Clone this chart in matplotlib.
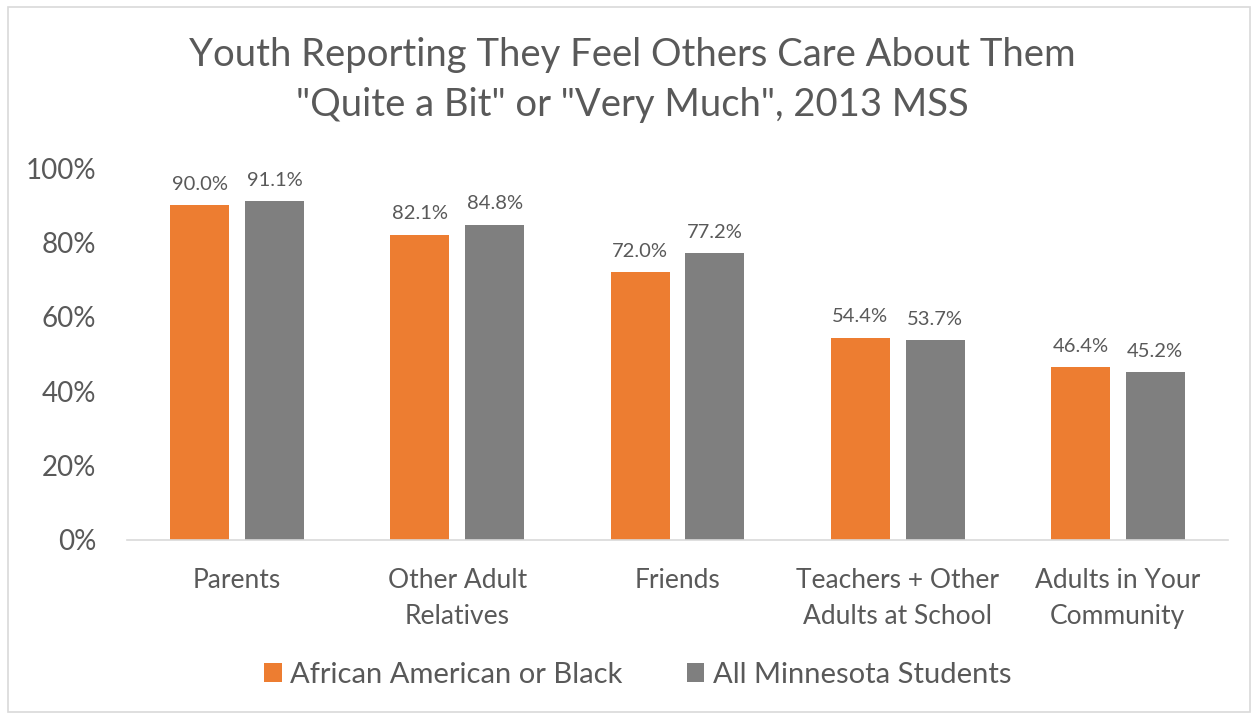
import numpy as np
import matplotlib
matplotlib.use("Agg")
import matplotlib.pyplot as plt
from matplotlib.patches import Rectangle

categories = ["Parents", "Other Adult\nRelatives", "Friends",
              "Teachers + Other\nAdults at School", "Adults in Your\nCommunity"]
black = [90.0, 82.1, 72.0, 54.4, 46.4]
all_mn = [91.1, 84.8, 77.2, 53.7, 45.2]
series = ["African American or Black", "All Minnesota Students"]
title = "Youth Reporting They Feel Others Care About Them\n\"Quite a Bit\" or \"Very Much\", 2013 MSS"

ORANGE = "#ED7D31"
GRAY = "#7F7F7F"
TXT = "#595959"

plt.rcParams["font.family"] = ["Lato", "DejaVu Sans"]

fig = plt.figure(figsize=(12.53, 7.15), dpi=100)
ax = fig.add_axes([0.1014, 0.2448, 0.8786, 0.520])

x = np.arange(len(categories))
w = 0.268
off = 0.17
ax.bar(x - off, black, w, color=ORANGE, label=series[0])
ax.bar(x + off, all_mn, w, color=GRAY, label=series[1])
for i in range(len(categories)):
    ax.text(x[i] - off, black[i] + 3.3, f"{black[i]:.1f}%", ha="center", va="bottom",
            fontsize=14.5, color=TXT)
    ax.text(x[i] + off, all_mn[i] + 3.3, f"{all_mn[i]:.1f}%", ha="center", va="bottom",
            fontsize=14.5, color=TXT)

ax.set_xlim(-0.5, len(categories) - 0.5)
ax.set_ylim(0, 100)
ax.set_yticks(range(0, 101, 20))
ax.set_yticklabels([f"{v}%" for v in range(0, 101, 20)])
ax.set_xticks(x)
ax.set_xticklabels(categories, linespacing=1.55)
ax.tick_params(axis="y", length=0, pad=22, labelsize=20, labelcolor=TXT)
ax.tick_params(axis="x", length=0, pad=20, labelsize=19, labelcolor=TXT)
for s in ["top", "right", "left"]:
    ax.spines[s].set_visible(False)
ax.spines["bottom"].set_color("#D9D9D9")
ax.spines["bottom"].set_linewidth(1.2)

fig.text(0.505, 0.888, title, ha="center", va="center", fontsize=27.5, color=TXT,
         linespacing=1.5)

leg = fig.legend(loc="center", bbox_to_anchor=(0.509, 0.056), ncol=2, frameon=False,
                 fontsize=21, handlelength=0.6, handleheight=0.6, handletextpad=0.3,
                 columnspacing=2.2)
for t in leg.get_texts():
    t.set_color(TXT)

fig.patches.append(Rectangle((8 / 1253, 3 / 715), 1242 / 1253, 705 / 715,
                             transform=fig.transFigure, fill=False,
                             edgecolor="#D9D9D9", linewidth=1.2))

fig.savefig("out.png", dpi=100)
